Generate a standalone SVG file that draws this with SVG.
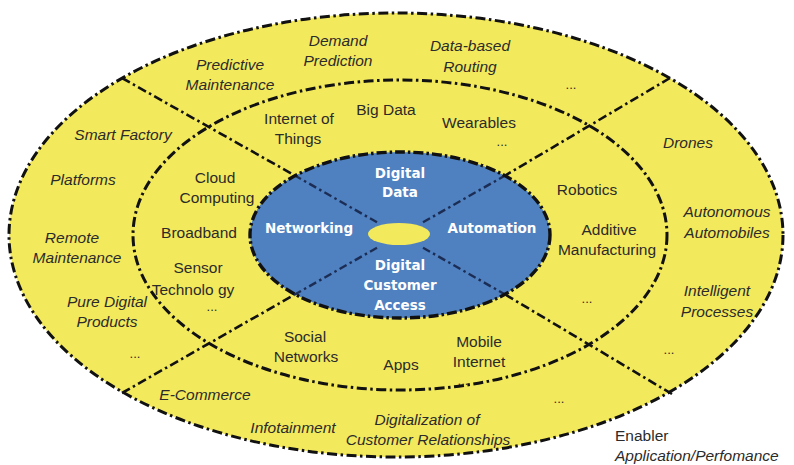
<svg xmlns="http://www.w3.org/2000/svg" width="794" height="465" viewBox="0 0 794 465">
<style>
.ring{fill:none;stroke:#111;stroke-width:3;stroke-dasharray:10 3.5 2.5 3.5}
.diag{fill:none;stroke:#111;stroke-width:2.6;stroke-dasharray:9 3.5 2.5 3.5}
.diagin{fill:none;stroke:#1c2d55;stroke-width:2.4;stroke-dasharray:8 3.5 2.5 3.5}
.o{font-family:"Liberation Sans",Arial,sans-serif;font-style:italic;font-size:15.5px;fill:#2b2b2b;text-anchor:middle}
.m{font-family:"Liberation Sans",Arial,sans-serif;font-size:15.5px;fill:#2b2b2b;text-anchor:middle}
.b{font-family:"DejaVu Sans",Verdana,sans-serif;font-weight:bold;font-size:13.5px;fill:#ffffff;text-anchor:middle}
.d{font-family:"Liberation Sans",Arial,sans-serif;font-size:13px;fill:#2b2b2b;text-anchor:middle}
.l{font-family:"Liberation Sans",Arial,sans-serif;font-size:15.5px;fill:#2b2b2b}
</style>
<rect width="794" height="465" fill="#ffffff"/>
<g id="outer-ring">
<ellipse cx="396" cy="235" rx="387" ry="222" fill="#F3E95C"/>
<ellipse class="ring" cx="396" cy="235" rx="387" ry="222"/>
</g>
<g id="middle-ring">
<ellipse class="ring" cx="400" cy="235" rx="267" ry="155"/>
</g>
<g id="inner-core">
<ellipse cx="400" cy="235" rx="150" ry="83" fill="#4F80BF"/>
</g>
<g id="connectors">
<polyline class="diag" points="122,78 294,175"/>
<polyline class="diag" points="670,78 506,175"/>
<polyline class="diag" points="122,393 294,295"/>
<polyline class="diag" points="672,394 506,295"/>
<polyline class="diagin" points="294,175 380,224"/>
<polyline class="diagin" points="506,175 420,224"/>
<polyline class="diagin" points="294,295 380,246"/>
<polyline class="diagin" points="506,295 420,246"/>
</g>
<g id="inner-ring-edge">
<ellipse cx="400" cy="235" rx="150" ry="83" fill="none" stroke="#111" stroke-width="3.4" stroke-dasharray="10 3 2.5 3"/>
</g>
<g id="center">
<ellipse cx="399" cy="234" rx="31" ry="11" fill="#F3E95C"/>
</g>
<g id="application-ring-texts">
<text class="o" x="338" y="46">Demand</text>
<text class="o" x="338" y="66">Prediction</text>
<text class="o" x="230" y="70">Predictive</text>
<text class="o" x="230" y="90">Maintenance</text>
<text class="o" x="470" y="51">Data-based</text>
<text class="o" x="470" y="72">Routing</text>
<text class="d" x="571" y="89">...</text>
<text class="o" x="123" y="140">Smart Factory</text>
<text class="o" x="83" y="185">Platforms</text>
<text class="o" x="72" y="243">Remote</text>
<text class="o" x="77" y="263">Maintenance</text>
<text class="o" x="107" y="307">Pure Digital</text>
<text class="o" x="107" y="327">Products</text>
<text class="d" x="135" y="358">...</text>
<text class="o" x="205" y="400">E-Commerce</text>
<text class="o" x="293" y="433">Infotainment</text>
<text class="o" x="427" y="425">Digitalization of</text>
<text class="o" x="428" y="445">Customer Relationships</text>
<text class="d" x="559" y="403">...</text>
<text class="d" x="669" y="354">...</text>
<text class="o" x="688" y="148">Drones</text>
<text class="o" x="727" y="217">Autonomous</text>
<text class="o" x="727" y="238">Automobiles</text>
<text class="o" x="717" y="296">Intelligent</text>
<text class="o" x="717" y="317">Processes</text>
</g>
<g id="enabler-ring-texts">
<text class="m" x="299" y="124">Internet of</text>
<text class="m" x="298" y="144">Things</text>
<text class="m" x="386" y="115">Big Data</text>
<text class="m" x="479" y="128">Wearables</text>
<text class="d" x="502" y="146">...</text>
<text class="m" x="215" y="183">Cloud</text>
<text class="m" x="217" y="203">Computing</text>
<text class="m" x="199" y="238">Broadband</text>
<text class="m" x="198" y="273">Sensor</text>
<text class="m" x="193" y="295">Technolo gy</text>
<text class="d" x="212" y="311" font-size="11">...</text>
<text class="m" x="587" y="195">Robotics</text>
<text class="m" x="609" y="235">Additive</text>
<text class="m" x="607" y="255">Manufacturing</text>
<text class="d" x="587" y="303">...</text>
<text class="m" x="305" y="342">Social</text>
<text class="m" x="306" y="362">Networks</text>
<text class="m" x="401" y="370">Apps</text>
<text class="m" x="479" y="347">Mobile</text>
<text class="m" x="479" y="367">Internet</text>
<text class="d" x="463" y="385">...</text>
</g>
<g id="core-texts">
<text class="b" x="400" y="178">Digital</text>
<text class="b" x="400" y="197">Data</text>
<text class="b" x="309" y="233">Networking</text>
<text class="b" x="492" y="233">Automation</text>
<text class="b" x="400" y="270">Digital</text>
<text class="b" x="400" y="290">Customer</text>
<text class="b" x="400" y="310">Access</text>
</g>
<g id="legend">
<text class="l" x="615" y="441">Enabler</text>
<text class="l" x="615" y="461" font-style="italic">Application/Perfomance</text>
</g>
</svg>
